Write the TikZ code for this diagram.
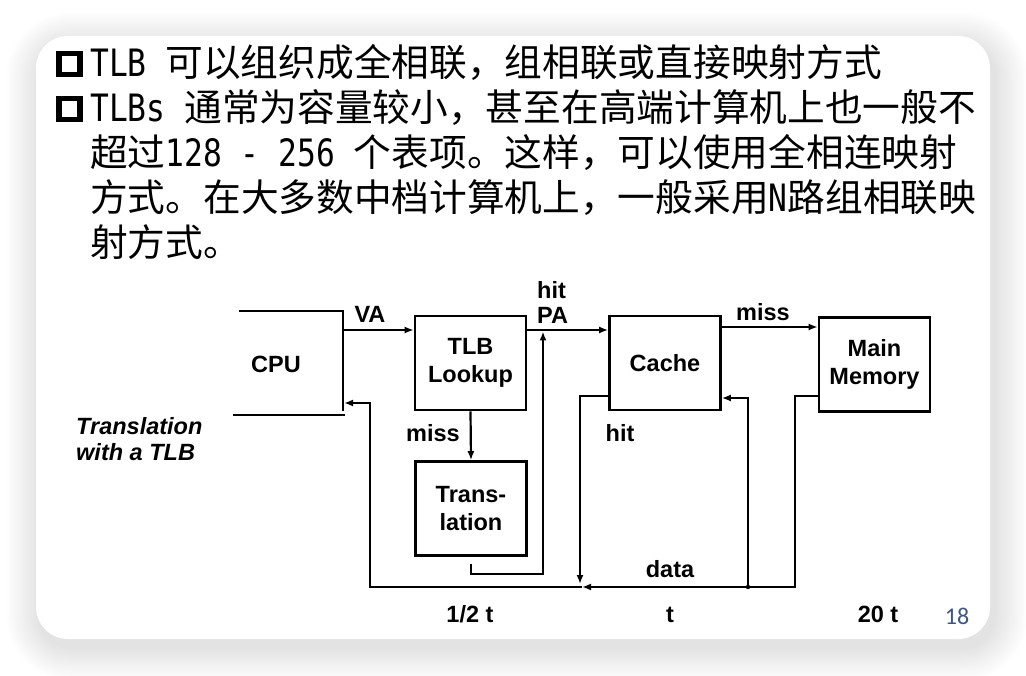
\documentclass[tikz,border=0pt]{standalone}
\usepackage{fontspec}
\usetikzlibrary{arrows.meta,calc}

\newfontfamily\cjkfont{Noto Sans CJK SC}
\newfontfamily\halfwidth[FakeStretch=0.83]{DejaVu Sans Mono}
\newfontfamily\diagfont{Liberation Sans}
\newfontfamily\pagefont{Carlito}
\definecolor{pagenum}{RGB}{62,86,128}

\newcommand\hwtext[1]{{\halfwidth #1}}
\newcommand\bodyfont{\cjkfont\fontsize{37.7}{45}\selectfont}
\newcommand\dglabel{\diagfont\bfseries\fontsize{23.5}{28.5}\selectfont}

\begin{document}
\begin{tikzpicture}[x=1pt,y=-1pt,
  bodyline/.style={anchor=base west, inner sep=0, font=\bodyfont},
  bullet/.style={draw, line width=5.5pt, minimum size=21pt, inner sep=0},
  unitbox/.style={draw, line width=2.6pt, minimum width=111pt, minimum height=94pt,
                  inner sep=0, font=\dglabel, align=center},
  lbl/.style={anchor=base, inner sep=0, font=\dglabel},
  wire/.style={line width=2.2pt},
  arr/.style={line width=2.2pt, -{Latex[length=9pt,width=7pt]}}]

\useasboundingbox (0,0) rectangle (1026,676);
\fill[white] (0,0) rectangle (1026,676);

% soft shadow under the slide card, cast down and to the right
\foreach \i in {1,...,14}{
  \pgfmathsetmacro\g{\i*2.4}
  \pgfmathsetmacro\r{32+\i*2.4}
  \fill[black, opacity=0.0075, rounded corners=\r pt]
    (40-\g,46-\g) rectangle (994+\g,647+\g);
}
\fill[white, rounded corners=32pt] (36,36) rectangle (990,639);

% bullet text
\node[bullet] (bul1) at (69.5,64) {};
\node[bullet] (bul2) at (69.5,109) {};
\node[bodyline] (line1) at (90,77)  {\hwtext{TLB }可以组织成全相联，组相联或直接映射方式};
\node[bodyline] (line2) at (90,122) {\hwtext{TLBs }通常为容量较小，甚至在高端计算机上也一般不};
\node[bodyline] (line3) at (90,167) {超过\hwtext{128 - 256 }个表项。这样，可以使用全相连映射};
\node[bodyline] (line4) at (90,212) {方式。在大多数中档计算机上，一般采用\hwtext{N}路组相联映};
\node[bodyline] (line5) at (90,257) {射方式。};

% CPU (open frame)
\node[inner sep=0, font=\dglabel] (cpu) at (276,364) {CPU};
\draw[line width=2.6pt] (239,311) -| (343,411);
\draw[line width=2.6pt] (233,415) -- (345,415);

% units
\node[unitbox] (tlb)   at (470.5,363)   {TLB\\Lookup};
\node[unitbox] (cache) at (665,363)     {Cache};
\node[unitbox] (mm)    at (874.5,364.5) {Main\\Memory};
\node[unitbox] (trans) at (471,508.5)   {Trans-\\lation};

% connection points
\coordinate (cpuout)    at (343,330);
\coordinate (cpuin)     at (344,403);
\coordinate (pajoin)    at (543,331.5);
\coordinate (hitend)    at (580,584);
\coordinate (datasplit) at (748,587);
\coordinate (memdrop)   at (795,587);
\coordinate (datamid)   at (582,587);
\coordinate (cpuret)    at (370,587);

% connectors
\draw[arr] (cpuout) -- (tlb.west |- cpuout);
\draw[arr] (tlb.east |- cpuout) -- (cache.west |- cpuout);
\draw[arr] (tlb.south) -- (trans.north);
\draw[arr] ($(trans.south)+(0,7)$) -- ++(0,10) -| (pajoin);
\draw[arr] (cache.east |- 0,327) -- (mm.west |- 0,327);
\draw[arr] (cache.west |- 0,396) -| (hitend);
\draw[arr] (mm.west |- 0,396) -| (memdrop) -- (datamid);
\draw[arr] (datamid) -- (cpuret) |- (cpuin);
\draw[arr] (datasplit) |- (cache.east |- 0,398);
\fill (datasplit) circle (2.2);

% labels
\node[lbl] (lva) at (370,323) {VA};
\node[lbl, anchor=base west] (lhit) at (537,299) {hit};
\node[lbl, anchor=base west] (lpa)  at (537,324) {PA};
\node[lbl] (lmiss1) at (433,441) {miss};
\node[lbl] (lmiss2) at (763,321) {miss};
\node[lbl] (lhit2)  at (620,441) {hit};
\node[lbl] (ldata)  at (670,577) {data};
\node[lbl] (thalf)  at (470,622) {1/2 t};
\node[lbl] (tone)   at (670,622) {t};
\node[lbl] (ttwenty) at (878,622) {20 t};
\node[lbl, anchor=base west, font=\dglabel\itshape] (cap1) at (76,435) {Translation};
\node[lbl, anchor=base west, font=\dglabel\itshape] (cap2) at (76,460) {with a TLB};
\node[anchor=base, inner sep=0, font=\pagefont\fontsize{24}{24}\selectfont,
      text=pagenum] (pg) at (957,624) {18};
\end{tikzpicture}
\end{document}
